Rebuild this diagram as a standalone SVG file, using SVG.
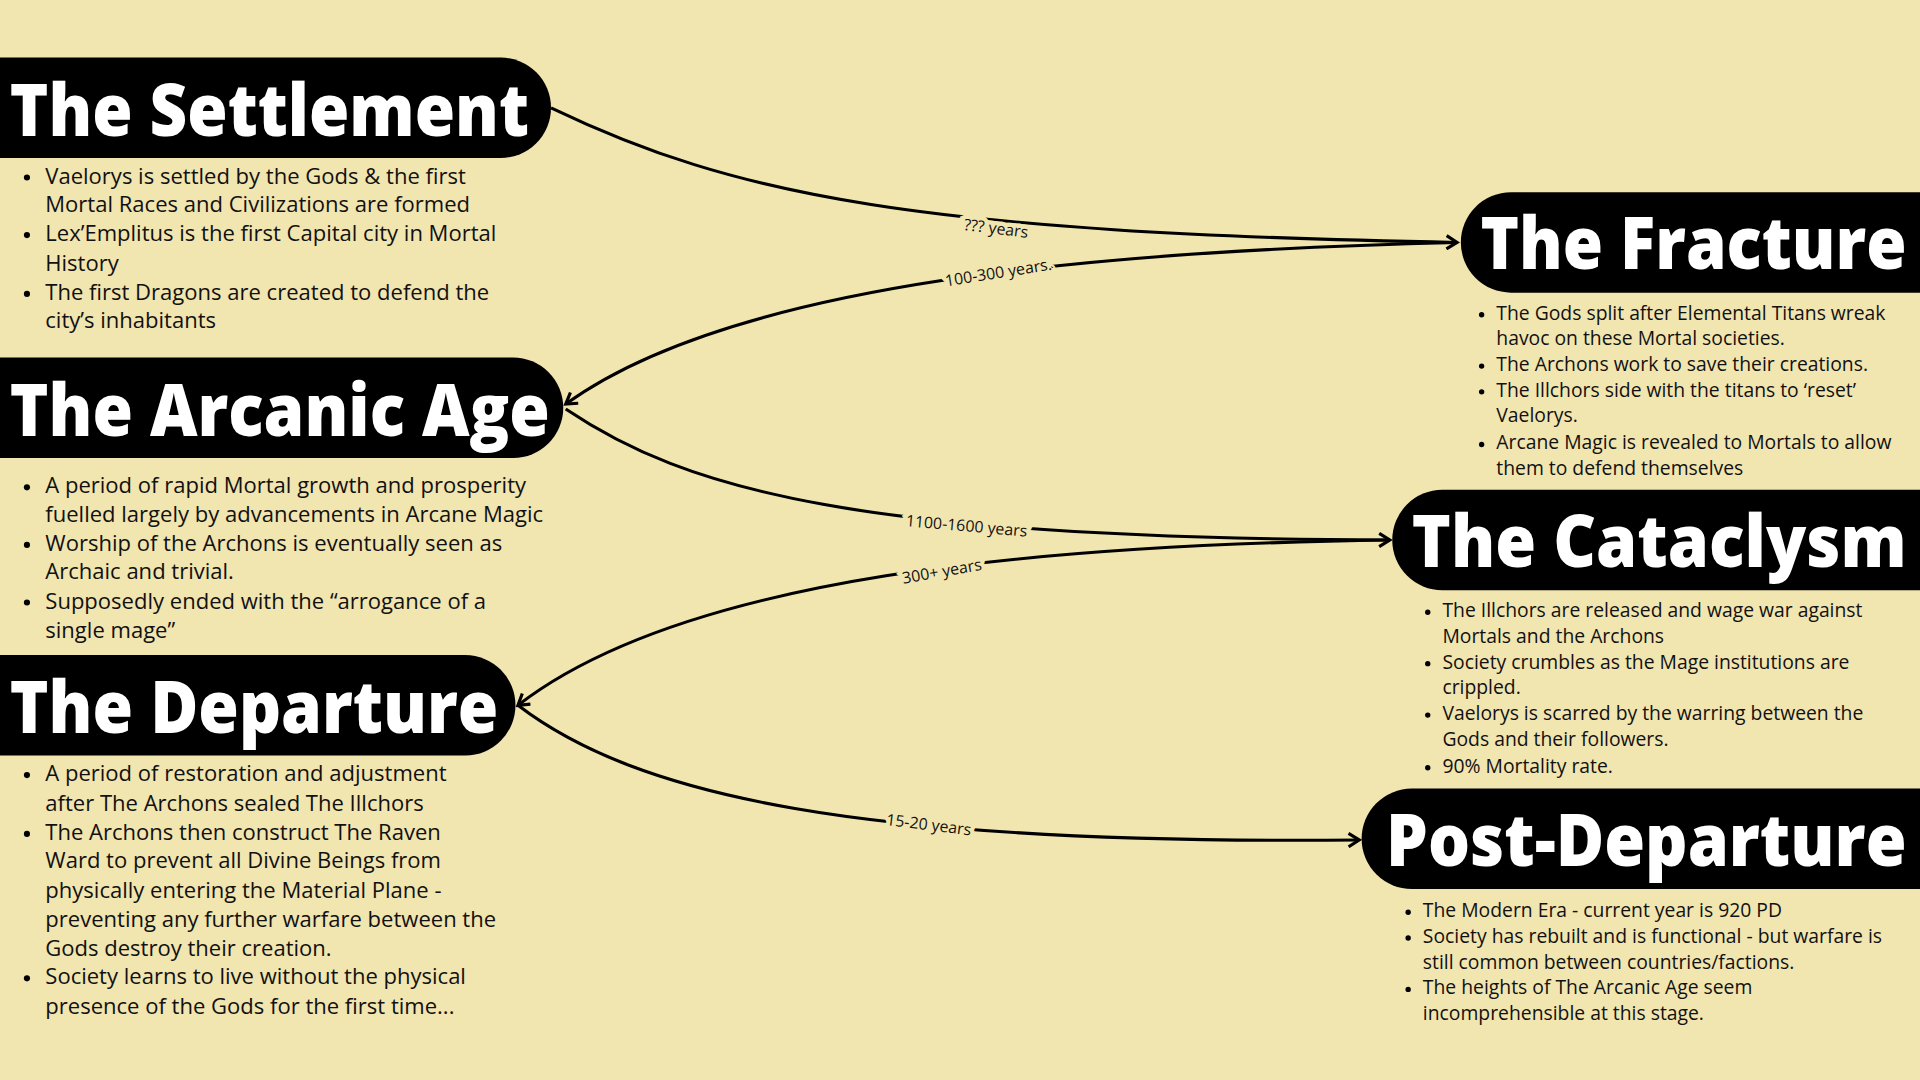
<svg xmlns="http://www.w3.org/2000/svg" width="1920" height="1080" viewBox="0 0 1920 1080">
<defs>
<marker id="ah" viewBox="0 0 12 12" refX="10" refY="6" markerWidth="13" markerHeight="13" markerUnits="userSpaceOnUse" orient="auto"><path d="M2,1 L10,6 L2,11" fill="none" stroke="#000" stroke-width="2.4"/></marker>
<style>
.pill{fill:#000}
.title{font-family:"Open Sans",sans-serif;font-weight:800;font-size:60px;fill:#fff}
.b{font-family:"Open Sans",sans-serif;font-size:18px;fill:#111}
.s{font-family:"Open Sans",sans-serif;font-size:15.8px;fill:#111}
.con{fill:none;stroke:#000;stroke-width:2.5;marker-end:url(#ah)}
.lbl{font-family:"Open Sans",sans-serif;font-size:13px;fill:#111;stroke:#f1e5b0;stroke-width:7;paint-order:stroke;text-anchor:middle}
</style>
</defs>
<rect width="1920" height="1080" fill="#f1e5b0"/>
<g transform="scale(1.22449)">
<g id="connectors">
<path class="con" d="M450,88 C600,160 750,190 1190,198"/>
<path class="con" d="M1190,198 C900,205 600,230 462,330"/>
<path class="con" d="M462,334 C560,400 700,440 1135,441"/>
<path class="con" d="M1135,441 C850,445 560,470 423,576"/>
<path class="con" d="M423,576 C520,650 700,690 1110,686"/>
<text class="lbl" transform="translate(813,191) rotate(7)">??? years</text>
<text class="lbl" transform="translate(816,227) rotate(-9)">100-300 years.</text>
<text class="lbl" transform="translate(789,434) rotate(5)">1100-1600 years</text>
<text class="lbl" transform="translate(770,471) rotate(-10)">300+ years</text>
<text class="lbl" transform="translate(758,678) rotate(7)">15-20 years</text>
</g>
<g id="settlement">
<path class="pill" d="M0,47 H409 A41,41 0 0 1 409,129 H0 Z"/>
<text class="title" x="8" y="111" textLength="424" lengthAdjust="spacingAndGlyphs">The Settlement</text>
<g class="b"><text x="37" y="150">Vaelorys is settled by the Gods &amp; the first</text><text x="37" y="173">Mortal Races and Civilizations are formed</text><text x="37" y="197">Lex’Emplitus is the first Capital city in Mortal</text><text x="37" y="221">History</text><text x="37" y="245">The first Dragons are created to defend the</text><text x="37" y="268">city’s inhabitants</text></g>
<g><circle cx="22" cy="145" r="2.5"/><circle cx="22" cy="192" r="2.5"/><circle cx="22" cy="240" r="2.5"/></g>
</g>
<g id="fracture">
<path class="pill" d="M1568,157 H1234 A41,41 0 0 0 1234,239 H1568 Z"/>
<text class="title" x="1209" y="220" textLength="348" lengthAdjust="spacingAndGlyphs">The Fracture</text>
<g class="s"><text x="1222" y="261">The Gods split after Elemental Titans wreak</text><text x="1222" y="282">havoc on these Mortal societies.</text><text x="1222" y="303">The Archons work to save their creations.</text><text x="1222" y="324">The Illchors side with the titans to ‘reset’</text><text x="1222" y="345">Vaelorys.</text><text x="1222" y="367">Arcane Magic is revealed to Mortals to allow</text><text x="1222" y="388">them to defend themselves</text></g>
<g><circle cx="1210" cy="257" r="2.2"/><circle cx="1210" cy="299" r="2.2"/><circle cx="1210" cy="320" r="2.2"/><circle cx="1210" cy="363" r="2.2"/></g>
</g>
<g id="arcanic">
<path class="pill" d="M0,292 H419 A41,41 0 0 1 419,374 H0 Z"/>
<text class="title" x="8" y="356" textLength="441" lengthAdjust="spacingAndGlyphs">The Arcanic Age</text>
<g class="b"><text x="37" y="403">A period of rapid Mortal growth and prosperity</text><text x="37" y="426">fuelled largely by advancements in Arcane Magic</text><text x="37" y="450">Worship of the Archons is eventually seen as</text><text x="37" y="473">Archaic and trivial.</text><text x="37" y="497">Supposedly ended with the “arrogance of a</text><text x="37" y="521">single mage”</text></g>
<g><circle cx="22" cy="398" r="2.5"/><circle cx="22" cy="445" r="2.5"/><circle cx="22" cy="492" r="2.5"/></g>
</g>
<g id="cataclysm">
<path class="pill" d="M1568,400 H1178 A41,41 0 0 0 1178,482 H1568 Z"/>
<text class="title" x="1153" y="463" textLength="404" lengthAdjust="spacingAndGlyphs">The Cataclysm</text>
<g class="s"><text x="1178" y="504">The Illchors are released and wage war against</text><text x="1178" y="525">Mortals and the Archons</text><text x="1178" y="546">Society crumbles as the Mage institutions are</text><text x="1178" y="567">crippled.</text><text x="1178" y="588">Vaelorys is scarred by the warring between the</text><text x="1178" y="609">Gods and their followers.</text><text x="1178" y="631">90% Mortality rate.</text></g>
<g><circle cx="1166" cy="500" r="2.2"/><circle cx="1166" cy="542" r="2.2"/><circle cx="1166" cy="584" r="2.2"/><circle cx="1166" cy="627" r="2.2"/></g>
</g>
<g id="departure">
<path class="pill" d="M0,535 H380 A41,41 0 0 1 380,617 H0 Z"/>
<text class="title" x="8" y="599" textLength="399" lengthAdjust="spacingAndGlyphs">The Departure</text>
<g class="b"><text x="37" y="638">A period of restoration and adjustment</text><text x="37" y="662">after The Archons sealed The Illchors</text><text x="37" y="686">The Archons then construct The Raven</text><text x="37" y="709">Ward to prevent all Divine Beings from</text><text x="37" y="733">physically entering the Material Plane -</text><text x="37" y="757">preventing any further warfare between the</text><text x="37" y="781">Gods destroy their creation.</text><text x="37" y="804">Society learns to live without the physical</text><text x="37" y="828">presence of the Gods for the first time...</text></g>
<g><circle cx="22" cy="633" r="2.5"/><circle cx="22" cy="681" r="2.5"/><circle cx="22" cy="799" r="2.5"/></g>
</g>
<g id="postdeparture">
<path class="pill" d="M1568,644 H1153 A41,41 0 0 0 1153,726 H1568 Z"/>
<text class="title" x="1132" y="707" textLength="425" lengthAdjust="spacingAndGlyphs">Post-Departure</text>
<g class="s"><text x="1162" y="749">The Modern Era - current year is 920 PD</text><text x="1162" y="770">Society has rebuilt and is functional - but warfare is</text><text x="1162" y="791">still common between countries/factions.</text><text x="1162" y="812">The heights of The Arcanic Age seem</text><text x="1162" y="833">incomprehensible at this stage.</text></g>
<g><circle cx="1150" cy="745" r="2.2"/><circle cx="1150" cy="766" r="2.2"/><circle cx="1150" cy="808" r="2.2"/></g>
</g>
</g>
</svg>
